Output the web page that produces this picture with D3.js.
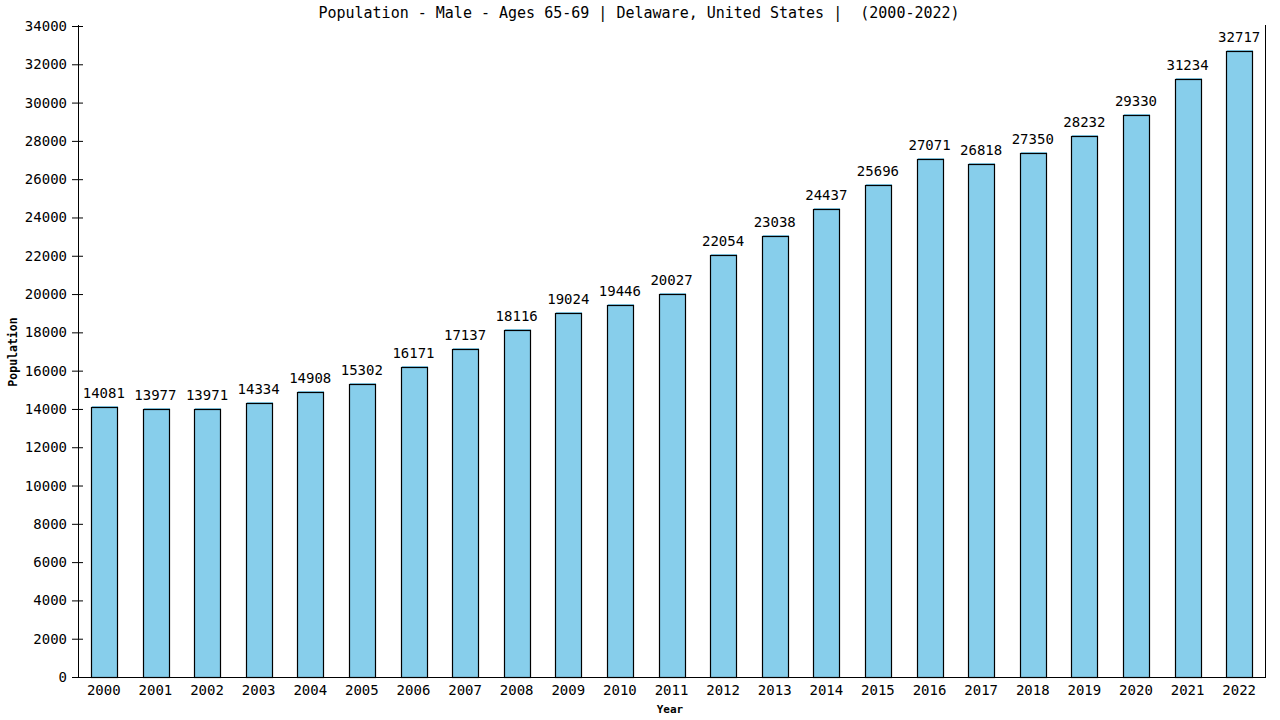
<!DOCTYPE html>
<html><head><meta charset="utf-8">
<script src="https://cdn.jsdelivr.net/npm/d3@7"></script>
<style>body{margin:0;background:#fff}svg{display:block}text{font-family:"DejaVu Sans Mono",monospace;fill:#000}</style>
</head><body>
<script>
const years = ["2000","2001","2002","2003","2004","2005","2006","2007","2008","2009","2010","2011","2012","2013","2014","2015","2016","2017","2018","2019","2020","2021","2022"];
const population = [14081,13977,13971,14334,14908,15302,16171,17137,18116,19024,19446,20027,22054,23038,24437,25696,27071,26818,27350,28232,29330,31234,32717];
const yTicks = [0,2000,4000,6000,8000,10000,12000,14000,16000,18000,20000,22000,24000,26000,28000,30000,32000,34000];
const title = "Population - Male - Ages 65-69 | Delaware, United States |  (2000-2022)";

const W = 1280, H = 720;
const m = {l:78, r:1265, t:26, b:677};
const svg = d3.select("body").append("svg").attr("width",W).attr("height",H);
const x = d3.scaleBand().domain(years).range([m.l, m.r]).paddingInner(0.5).paddingOuter(0.25);
const y = d3.scaleLinear().domain([0,34000]).range([m.b, m.t]);

svg.append("text").attr("x",639).attr("y",13).attr("text-anchor","middle").attr("dominant-baseline","central")
  .style("font-size","15px").style("white-space","pre").attr("xml:space","preserve").text(title);

// y axis
const ya = svg.append("g").attr("transform",`translate(${m.l},0)`)
  .call(d3.axisLeft(y).tickValues(yTicks).tickSize(5).tickPadding(6).tickFormat(d3.format("d")));
ya.select(".domain").remove();
ya.selectAll(".tick line").attr("x1",-6).attr("x2",5).attr("stroke","#000");
ya.selectAll("text").style("font-size","14px").attr("fill","#000").attr("x",-11);
svg.append("line").attr("x1",m.l+0.5).attr("x2",m.l+0.5).attr("y1",m.t-1).attr("y2",m.b).attr("stroke","#000");
svg.append("line").attr("x1",m.r+0.5).attr("x2",m.r+0.5).attr("y1",m.t-1).attr("y2",m.b).attr("stroke","#000");

// x axis
const xa = svg.append("g").attr("transform",`translate(0,${m.b})`)
  .call(d3.axisBottom(x).tickSize(0).tickPadding(8));
xa.select(".domain").remove();
xa.selectAll("text").style("font-size","14px").attr("fill","#000");
svg.append("line").attr("x1",m.l).attr("x2",m.r+1).attr("y1",m.b+0.5).attr("y2",m.b+0.5).attr("stroke","#000");

// bars
const g = svg.append("g");
const data = years.map((yr,i)=>({yr, v:population[i]}));
g.selectAll("rect.fill").data(data).join("rect").attr("class","fill")
  .attr("x",d=>Math.round(x(d.yr))+1).attr("y",d=>Math.round(y(d.v))-1)
  .attr("width",Math.round(x.bandwidth())).attr("height",d=>m.b-Math.round(y(d.v))+1)
  .attr("fill","#87CEEB");
g.selectAll("rect.edge").data(data).join("rect").attr("class","edge")
  .attr("x",d=>Math.round(x(d.yr))+0.5).attr("y",d=>Math.round(y(d.v))+0.5)
  .attr("width",Math.round(x.bandwidth())).attr("height",d=>m.b-Math.round(y(d.v)))
  .attr("fill","none").attr("stroke","#000").attr("stroke-width",1.2);
g.selectAll("text.val").data(data).join("text").attr("class","val")
  .attr("x",d=>x(d.yr)+x.bandwidth()/2).attr("y",d=>y(d.v)-14)
  .attr("text-anchor","middle").attr("dominant-baseline","central").style("font-size","14px")
  .text(d=>d.v);

svg.append("text").attr("x",670).attr("y",709).attr("text-anchor","middle").attr("dominant-baseline","central")
  .style("font-size","11px").style("font-weight","bold").text("Year");
svg.append("text").attr("transform","translate(13,352) rotate(-90)").attr("text-anchor","middle").attr("dominant-baseline","central")
  .style("font-size","11.5px").style("font-weight","bold").text("Population");
</script>
</body></html>
